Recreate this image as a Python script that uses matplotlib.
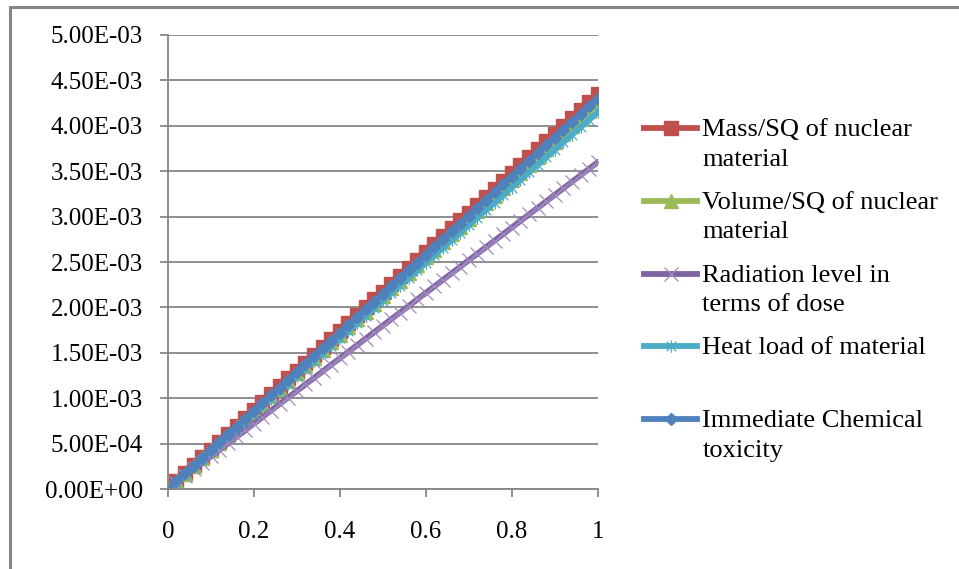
import numpy as np
import matplotlib.pyplot as plt
from matplotlib.path import Path
from matplotlib.patches import Rectangle
from matplotlib.ticker import FuncFormatter
from matplotlib.legend_handler import HandlerLine2D

plt.rcParams['font.family'] = ['Liberation Serif', 'DejaVu Serif']

x = [0.00, 0.02, 0.04, 0.06, 0.08, 0.10, 0.12, 0.14, 0.16, 0.18,
     0.20, 0.22, 0.24, 0.26, 0.28, 0.30, 0.32, 0.34, 0.36, 0.38,
     0.40, 0.42, 0.44, 0.46, 0.48, 0.50, 0.52, 0.54, 0.56, 0.58,
     0.60, 0.62, 0.64, 0.66, 0.68, 0.70, 0.72, 0.74, 0.76, 0.78,
     0.80, 0.82, 0.84, 0.86, 0.88, 0.90, 0.92, 0.94, 0.96, 0.98, 1.00]

# values in units of 1e-3
mass = [0.000, 0.087, 0.174, 0.261, 0.348, 0.435, 0.522, 0.609, 0.696, 0.783,
        0.870, 0.957, 1.044, 1.131, 1.218, 1.305, 1.392, 1.479, 1.566, 1.653,
        1.740, 1.827, 1.914, 2.001, 2.088, 2.175, 2.262, 2.349, 2.436, 2.523,
        2.610, 2.697, 2.784, 2.871, 2.958, 3.045, 3.132, 3.219, 3.306, 3.393,
        3.480, 3.567, 3.654, 3.741, 3.828, 3.915, 4.002, 4.089, 4.176, 4.263, 4.350]
volume = [0.000, 0.085, 0.170, 0.255, 0.340, 0.425, 0.510, 0.595, 0.680, 0.765,
          0.850, 0.935, 1.020, 1.105, 1.190, 1.275, 1.360, 1.445, 1.530, 1.615,
          1.700, 1.785, 1.870, 1.955, 2.040, 2.125, 2.210, 2.295, 2.380, 2.465,
          2.550, 2.635, 2.720, 2.805, 2.890, 2.975, 3.060, 3.145, 3.230, 3.315,
          3.400, 3.485, 3.570, 3.655, 3.740, 3.825, 3.910, 3.995, 4.080, 4.165, 4.250]
radiation = [0.000, 0.072, 0.144, 0.216, 0.288, 0.360, 0.432, 0.504, 0.576, 0.648,
             0.720, 0.792, 0.864, 0.936, 1.008, 1.080, 1.152, 1.224, 1.296, 1.368,
             1.440, 1.512, 1.584, 1.656, 1.728, 1.800, 1.872, 1.944, 2.016, 2.088,
             2.160, 2.232, 2.304, 2.376, 2.448, 2.520, 2.592, 2.664, 2.736, 2.808,
             2.880, 2.952, 3.024, 3.096, 3.168, 3.240, 3.312, 3.384, 3.456, 3.528, 3.600]
heat = [0.000, 0.083, 0.166, 0.249, 0.332, 0.415, 0.498, 0.581, 0.664, 0.747,
        0.830, 0.913, 0.996, 1.079, 1.162, 1.245, 1.328, 1.411, 1.494, 1.577,
        1.660, 1.743, 1.826, 1.909, 1.992, 2.075, 2.158, 2.241, 2.324, 2.407,
        2.490, 2.573, 2.656, 2.739, 2.822, 2.905, 2.988, 3.071, 3.154, 3.237,
        3.320, 3.403, 3.486, 3.569, 3.652, 3.735, 3.818, 3.901, 3.984, 4.067, 4.150]
chemical = [0.000, 0.086, 0.172, 0.258, 0.344, 0.430, 0.516, 0.602, 0.688, 0.774,
            0.860, 0.946, 1.032, 1.118, 1.204, 1.290, 1.376, 1.462, 1.548, 1.634,
            1.720, 1.806, 1.892, 1.978, 2.064, 2.150, 2.236, 2.322, 2.408, 2.494,
            2.580, 2.666, 2.752, 2.838, 2.924, 3.010, 3.096, 3.182, 3.268, 3.354,
            3.440, 3.526, 3.612, 3.698, 3.784, 3.870, 3.956, 4.042, 4.128, 4.214, 4.300]

labels = ['Mass/SQ of nuclear\nmaterial',
          'Volume/SQ of nuclear\nmaterial',
          'Radiation level in\nterms of dose',
          'Heat load of material\n',
          'Immediate Chemical\ntoxicity']

# asterisk marker: x with a vertical bar
star = Path([(-1, -1), (1, 1), (-1, 1), (1, -1), (0, -1.3), (0, 1.3)],
            [Path.MOVETO, Path.LINETO, Path.MOVETO, Path.LINETO, Path.MOVETO, Path.LINETO])

styles = [
    dict(color='#C0504D', marker='s', ms=9.5, mec='#C0504D', mfc='#C0504D'),
    dict(color='#9BBB59', marker='^', ms=9.5, mec='#9BBB59', mfc='#9BBB59'),
    dict(color='#8064A2', marker='x', ms=10, mec='#A28BC0', mew=0.9),
    dict(color='#4BACC6', marker=star, ms=9, mec='#4BACC6', mew=0.9),
    dict(color='#4F81BD', marker='D', ms=6.5, mec='#4F81BD', mfc='#4F81BD'),
]


class FirstLineHandler(HandlerLine2D):
    # put the legend key on the first text line, not the middle of the block
    def __init__(self, shift, **kw):
        super().__init__(**kw)
        self.shift = shift

    def create_artists(self, legend, orig_handle, xdescent, ydescent,
                       width, height, fontsize, trans):
        return super().create_artists(legend, orig_handle, xdescent,
                                      ydescent - 2 * self.shift, width, height,
                                      fontsize, trans)


fig = plt.figure(figsize=(9.59, 5.69), dpi=100)
ax = fig.add_axes([0.175, 0.1405, 0.4484, 0.798])

grey = '#868686'
lines = []
for ys, st, lab in zip([mass, volume, radiation, heat, chemical], styles, labels):
    ln, = ax.plot(x, np.array(ys) * 1e-3, lw=4.2, label=lab, **st)
    lines.append(ln)

ax.set_xlim(0, 1)
ax.set_ylim(0, 5e-3)
ax.set_xticks([0, 0.2, 0.4, 0.6, 0.8, 1.0])
ax.set_yticks(np.arange(0, 5.01e-3, 0.5e-3))
ax.yaxis.set_major_formatter(FuncFormatter(lambda v, p: '%.2E' % v))
ax.xaxis.set_major_formatter(FuncFormatter(lambda v, p: '%g' % v))
ax.grid(axis='y', color=grey, lw=1.3)
ax.set_axisbelow(True)
for s in ['top', 'right']:
    ax.spines[s].set_visible(False)
for s in ['left', 'bottom']:
    ax.spines[s].set_color(grey)
    ax.spines[s].set_linewidth(1.3)
ax.tick_params(axis='both', colors=grey, width=1.3, length=6, labelsize=18,
               labelcolor='black')
ax.tick_params(axis='y', pad=12)
ax.tick_params(axis='x', pad=17)

leg = ax.legend(handles=lines, loc='upper left', bbox_to_anchor=(1.108, 0.815),
                frameon=False, fontsize=19, handlelength=2.0, handletextpad=0.2,
                labelspacing=0.8, borderaxespad=0, borderpad=0,
                handler_map={ln: FirstLineHandler(11.5) for ln in lines})
for t in leg.get_texts():
    t.set_linespacing(1.45)

# outer chart frame
fig.add_artist(Rectangle((10 / 959, -0.2), 1.2, 1.2 - 7 / 569,
                         transform=fig.transFigure, fill=False,
                         edgecolor=grey, lw=2.2))

fig.savefig('out.png', dpi=100)
